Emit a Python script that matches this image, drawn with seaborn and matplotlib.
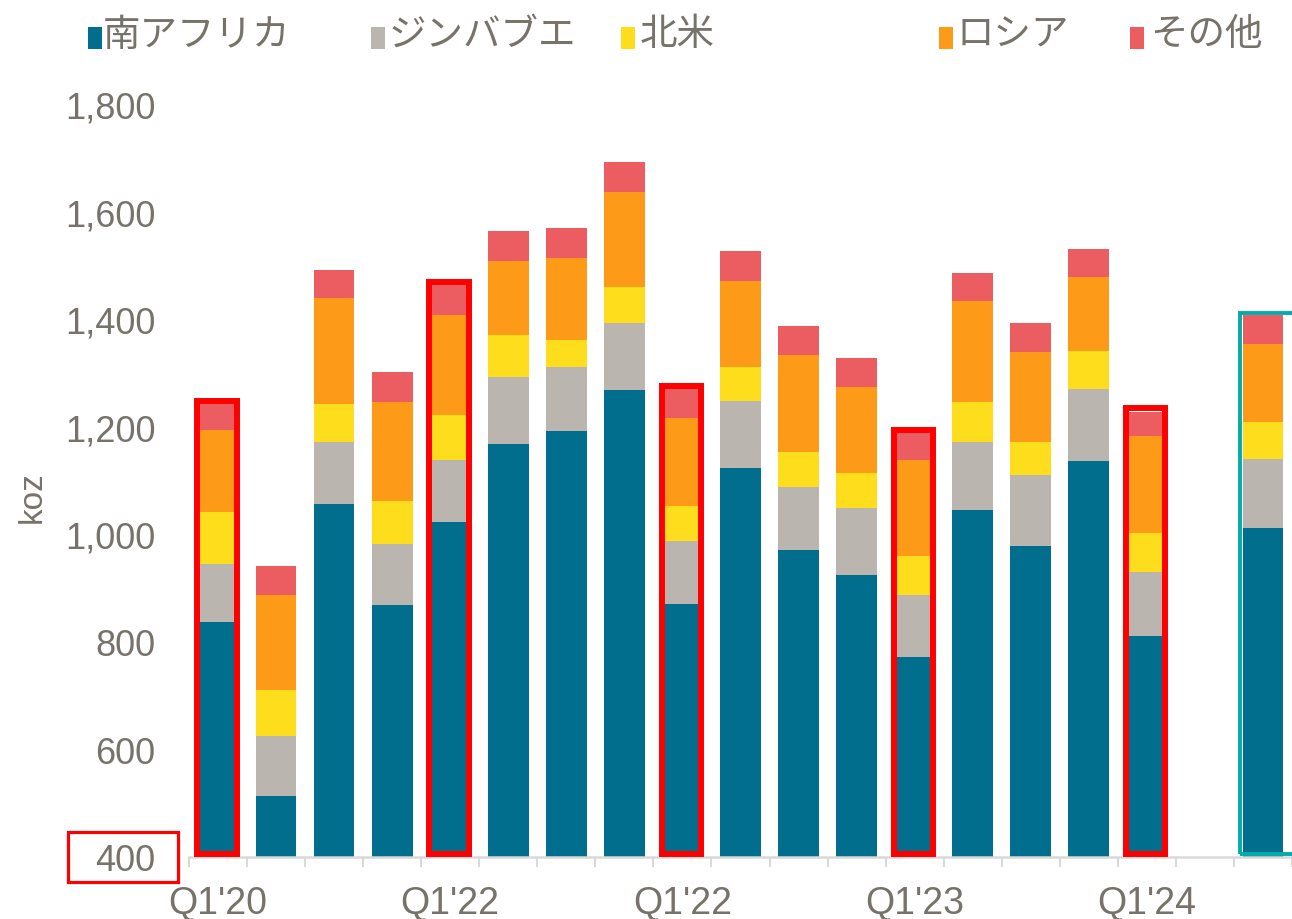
import numpy as np
import pandas as pd
import matplotlib
matplotlib.use("Agg")
import matplotlib.pyplot as plt
from matplotlib.patches import Rectangle
from matplotlib.ticker import FuncFormatter
import seaborn as sns

# ---------------- data ----------------
quarters = ["Q1'20", "Q2'20", "Q3'20", "Q4'20",
            "Q1'21", "Q2'21", "Q3'21", "Q4'21",
            "Q1'22", "Q2'22", "Q3'22", "Q4'22",
            "Q1'23", "Q2'23", "Q3'23", "Q4'23",
            "Q1'24", "gap", "latest"]
south_africa = [837, 513, 1056, 868, 1023, 1168, 1192, 1268, 870, 1123, 971, 924, 772, 1045, 978, 1136, 811, np.nan, 1012]
zimbabwe     = [108, 112, 115, 114, 115, 124, 119, 125, 117, 125, 117, 125, 115, 126, 132, 134, 119, np.nan, 128]
north_america = [96, 85, 71, 80, 84, 78, 50, 67, 66, 63, 65, 65, 73, 75, 61, 71, 72, np.nan, 69]
russia       = [153, 177, 197, 184, 186, 138, 153, 176, 163, 160, 180, 160, 178, 188, 168, 137, 181, np.nan, 145]
other        = [48, 54, 52, 56, 55, 56, 55, 56, 54, 56, 54, 54, 50, 52, 54, 52, 45, np.nan, 54]

series_names = ["南アフリカ", "ジンバブエ", "北米", "ロシア", "その他"]
series_colors = ["#006E8C", "#BAB6AF", "#FEDD1D", "#FD9B18", "#EB5D61"]

tick_positions = [0, 4, 8, 12, 16]
tick_labels = ["Q1'20", "Q1'22", "Q1'22", "Q1'23", "Q1'24"]
y_ticks = [400, 600, 800, 1000, 1200, 1400, 1600, 1800]

red_boxes = [0, 4, 8, 12, 16]
teal_box = 18

# ---------------- style ----------------
sns.set_theme(style="white")
plt.rcParams["font.family"] = ["Liberation Sans", "Noto Sans CJK JP", "DejaVu Sans"]
TXT = "#77726A"

fig = plt.figure(figsize=(12.92, 9.2), dpi=100)
ax = fig.add_axes([189 / 1292, 62 / 920, 1103 / 1292, 753 / 920])

df = pd.DataFrame({"q": quarters, "sa": south_africa, "zim": zimbabwe,
                   "na": north_america, "ru": russia, "oth": other})
layers = ["sa", "zim", "na", "ru", "oth"]
cum = df[layers].cumsum(axis=1)

# draw cumulative totals from top layer down so they appear stacked
for i in range(len(layers) - 1, -1, -1):
    d = pd.DataFrame({"q": df["q"], "v": cum[layers[i]]}).dropna()
    sns.barplot(data=d, x="q", y="v", order=quarters, color=series_colors[i],
                saturation=1, width=0.7, errorbar=None, linewidth=0, ax=ax)

totals = cum["oth"].values

ax.set_ylim(400, 1800)
ax.set_xlim(-0.5, 18.19)
ax.set_yticks(y_ticks)
ax.yaxis.set_major_formatter(FuncFormatter(lambda v, p: f"{int(v):,}"))
ax.set_xticks(tick_positions)
ax.set_xticklabels(tick_labels)
ax.set_xticks(np.arange(-0.5, 19, 1), minor=True)
ax.tick_params(axis="x", which="major", length=0, pad=20, labelsize=27, labelcolor=TXT)
ax.tick_params(axis="x", which="minor", bottom=True, length=7.5, width=1.5, color="#D9D9D9")
ax.tick_params(axis="y", length=0, pad=24, labelsize=26, labelcolor=TXT)
ax.set_xlabel("")
ax.set_ylabel("koz", fontsize=24, color=TXT)
ax.yaxis.set_label_coords(-0.128, 0.479)

for s in ["left", "top", "right"]:
    ax.spines[s].set_visible(False)
ax.spines["bottom"].set_color("#D9D9D9")
ax.spines["bottom"].set_linewidth(1.8)
ax.grid(False)

# highlight boxes (annotations)
for i in red_boxes:
    ax.add_patch(Rectangle((i - 0.36, 405), 0.68, totals[i] + 6 - 405, fill=False,
                           edgecolor="#FF0000", linewidth=4.3, clip_on=False, zorder=5))
ax.add_patch(Rectangle((teal_box - 0.40, 405), 1.2, totals[teal_box] + 4 - 405, fill=False,
                       edgecolor="#00ADA9", linewidth=2.8, clip_on=False, zorder=5))

# red box around the 400 tick label
fig.patches.append(Rectangle((68 / 1292, 37 / 920), 110 / 1292, 50 / 920, fill=False,
                             edgecolor="#FF0000", linewidth=2.3, transform=fig.transFigure))

# legend (manual, irregular spacing as in reference)
leg_marker_x = [88, 371, 621, 939, 1130]
leg_text_x = [103, 389, 640, 957, 1150]
for name, col, mx, tx in zip(series_names, series_colors, leg_marker_x, leg_text_x):
    fig.patches.append(Rectangle((mx / 1292, 1 - 50 / 920), 14 / 1292, 22 / 920,
                                 facecolor=col, edgecolor="none", transform=fig.transFigure))
    fig.text(tx / 1292, 1 - 35 / 920, name, fontsize=27, color=TXT, ha="left", va="center",
             family=["Noto Sans CJK JP", "DejaVu Sans"])

fig.savefig("out.png", dpi=100)
